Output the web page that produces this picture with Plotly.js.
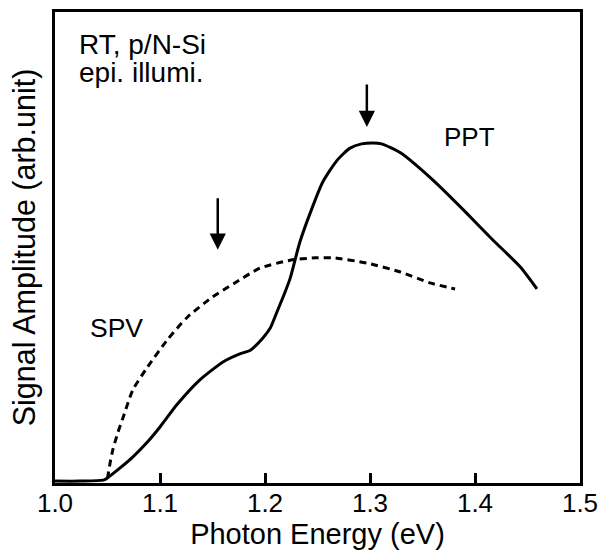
<!DOCTYPE html>
<html>
<head>
<meta charset="utf-8">
<script src="https://cdn.plot.ly/plotly-3.0.1.min.js"></script>
<style>html,body{margin:0;padding:0;background:#fff;}#chart{width:607px;height:551px;}</style>
</head>
<body>
<div id="chart"></div>
<script>
// Photon energy (eV) and signal amplitude (arb. units, 0-100 scale)
const pptEnergy = [1.000, 1.024, 1.046, 1.050, 1.062, 1.074, 1.088, 1.100, 1.116, 1.138, 1.160, 1.176, 1.186, 1.198, 1.205, 1.211, 1.218, 1.224, 1.233, 1.243, 1.255, 1.269, 1.281, 1.292, 1.303, 1.311, 1.329, 1.360, 1.392, 1.417, 1.443, 1.459];
const pptSignal = [0.4, 0.4, 0.6, 1.1, 3.2, 5.5, 8.7, 11.9, 16.6, 21.9, 25.7, 27.4, 28.2, 30.8, 32.9, 36.1, 39.9, 43.5, 51.0, 57.3, 63.9, 68.6, 71.1, 72.0, 72.2, 72.0, 70.1, 64.3, 57.3, 51.6, 45.9, 41.2];

const spvEnergy = [1.050, 1.053, 1.055, 1.060, 1.065, 1.074, 1.088, 1.107, 1.126, 1.150, 1.170, 1.195, 1.224, 1.248, 1.265, 1.297, 1.329, 1.357, 1.381];
const spvSignal = [1.0, 4.9, 7.0, 10.8, 14.0, 19.7, 24.6, 30.4, 35.2, 39.5, 42.3, 45.6, 47.3, 47.8, 47.8, 46.7, 44.8, 42.5, 41.2];

const tickValues = [1.0, 1.1, 1.2, 1.3, 1.4, 1.5];
const tickLabels = ["1.0", "1.1", "1.2", "1.3", "1.4", "1.5"];

// Marked peak energies (arrows)
const markEnergy = [1.155, 1.297];
const markSignal = [49.5, 75.6];

const FONT = "Liberation Sans, Arial, sans-serif";

const traces = [
  {x: pptEnergy, y: pptSignal, mode: "lines", name: "PPT",
   line: {color: "#000", width: 3, shape: "spline", smoothing: 0.6}},
  {x: spvEnergy, y: spvSignal, mode: "lines", name: "SPV",
   line: {color: "#000", width: 3, dash: "7px,5px", shape: "spline", smoothing: 0.6}}
];

const layout = {
  width: 607, height: 551,
  margin: {l: 55, r: 27, t: 12, b: 68},
  paper_bgcolor: "#fff", plot_bgcolor: "#fff",
  showlegend: false,
  font: {family: FONT, color: "#000", size: 26},
  xaxis: {
    range: [1.0, 1.5], tickvals: tickValues, ticktext: tickLabels,
    ticks: "inside", ticklen: 10, tickwidth: 3, tickcolor: "#000",
    ticklabelstandoff: -5,
    showline: true, linewidth: 3, linecolor: "#000", mirror: true,
    showgrid: false, zeroline: false,
    tickfont: {family: FONT, size: 26, color: "#000"},
    title: {text: "Photon Energy (eV)", font: {family: FONT, size: 29, color: "#000"}, standoff: 6}
  },
  yaxis: {
    range: [0, 100], showticklabels: false, ticks: "",
    showline: true, linewidth: 3, linecolor: "#000", mirror: true,
    showgrid: false, zeroline: false,
    title: {text: "Signal Amplitude (arb.unit)", font: {family: FONT, size: 30.5, color: "#000"}, standoff: 8}
  },
  annotations: [
    {xref: "paper", yref: "paper", x: 0.042, y: 0.932, xanchor: "left", yanchor: "middle",
     text: "RT, p/N-Si", showarrow: false, font: {family: FONT, size: 28, color: "#000"}},
    {xref: "paper", yref: "paper", x: 0.042, y: 0.872, xanchor: "left", yanchor: "middle",
     text: "epi. illumi.", showarrow: false, font: {family: FONT, size: 28, color: "#000"}},
    {xref: "paper", yref: "paper", x: 0.790, y: 0.734, xanchor: "center", yanchor: "middle",
     text: "PPT", showarrow: false, font: {family: FONT, size: 26, color: "#000"}},
    {xref: "paper", yref: "paper", x: 0.118, y: 0.330, xanchor: "center", yanchor: "middle",
     text: "SPV", showarrow: false, font: {family: FONT, size: 26.5, color: "#000"}},
    {x: markEnergy[0], y: markSignal[0], xref: "x", yref: "y", text: "", showarrow: true,
     ax: 0, ay: -53, arrowhead: 2, arrowsize: 1.3, arrowwidth: 2.5, arrowcolor: "#000", standoff: 0},
    {x: markEnergy[1], y: markSignal[1], xref: "x", yref: "y", text: "", showarrow: true,
     ax: 0, ay: -44, arrowhead: 2, arrowsize: 1.3, arrowwidth: 2.5, arrowcolor: "#000", standoff: 0}
  ]
};

Plotly.newPlot("chart", traces, layout, {displayModeBar: false, staticPlot: true});
</script>
</body>
</html>
